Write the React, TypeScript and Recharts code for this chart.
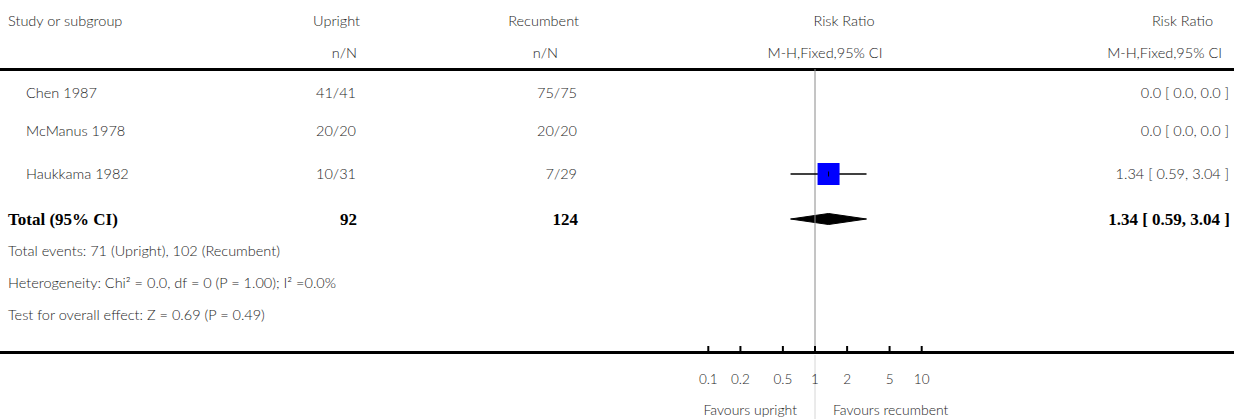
import React from "react";
import {
  Area,
  ComposedChart,
  ErrorBar,
  ReferenceLine,
  Scatter,
  XAxis,
  YAxis,
  ZAxis,
} from "recharts";

// study rows
const STUDIES = ["Chen 1987", "McManus 1978", "Haukkama 1982"];
const UPRIGHT = ["41/41", "20/20", "10/31"];
const RECUMBENT = ["75/75", "20/20", "7/29"];
const RR = [0.0, 0.0, 1.34];
const RR_LOW = [0.0, 0.0, 0.59];
const RR_HIGH = [0.0, 0.0, 3.04];

// pooled
const TOTAL_N = [92, 124];
const TOTAL_RR = 1.34;
const TOTAL_LOW = 0.59;
const TOTAL_HIGH = 3.04;

const FOOTNOTES = [
  "Total events: 71 (Upright), 102 (Recumbent)",
  "Heterogeneity: Chi² = 0.0, df = 0 (P = 1.00); I² =0.0%",
  "Test for overall effect: Z = 0.69 (P = 0.49)",
];

const TICKS = [0.1, 0.2, 0.5, 1, 2, 5, 10];

// layout
const W = 1234;
const H = 419;
const RULE_TOP = 69;
const AXIS_Y = 352;
const PLOT_LEFT = 601.6;
const PLOT_RIGHT = 1028.4;
const ROW_TEXT_Y = [93, 131, 174];
const TOTAL_Y = 219;
const FOOT_Y = [251, 283, 315];
const ROW_PX = 45;
const DIAMOND_HALF = 5.5 / ROW_PX;

const FONT = "Lato, 'Open Sans', sans-serif";
const SERIF = "'Liberation Serif', 'DejaVu Serif', serif";
const INK = "#1e1e1e";
const TEXT_SIZE = 14.5;

const fmt = (v: number) => (v === 0 ? "0.0" : v.toFixed(2));

const points = RR.map((rr, i) => ({
  x: rr,
  y: i,
  err: [rr - RR_LOW[i], RR_HIGH[i] - rr],
})).filter((p) => p.x > 0);

const totalRow = STUDIES.length;
const diamond = [
  { x: TOTAL_LOW, range: [totalRow, totalRow] },
  { x: TOTAL_RR, range: [totalRow - DIAMOND_HALF, totalRow + DIAMOND_HALF] },
  { x: TOTAL_HIGH, range: [totalRow, totalRow] },
];

const yDomain = [
  2 - (ROW_TEXT_Y[2] - RULE_TOP) / ROW_PX,
  2 + (AXIS_Y - ROW_TEXT_Y[2]) / ROW_PX,
];

function Txt({
  x,
  y,
  align = "left",
  bold = false,
  size,
  children,
}: {
  x: number;
  y: number;
  align?: "left" | "right" | "center";
  bold?: boolean;
  size?: number;
  children: React.ReactNode;
}) {
  const style: React.CSSProperties = {
    position: "absolute",
    top: y,
    transform: align === "center" ? "translate(-50%, -50%)" : "translateY(-50%)",
    whiteSpace: "nowrap",
    lineHeight: 1,
    fontFamily: bold ? SERIF : FONT,
    fontWeight: bold ? 700 : 300,
    fontSize: size ?? (bold ? 17 : TEXT_SIZE),
    color: bold ? "#000" : INK,
  };
  if (align === "right") style.right = W - x;
  else style.left = x;
  return <div style={style}>{children}</div>;
}

function Tick({ x, y, payload }: any) {
  return (
    <g>
      <line x1={x} x2={x} y1={y - 6} y2={y} stroke="#000" strokeWidth={2} />
      <text
        x={x}
        y={y + 32}
        textAnchor="middle"
        fontFamily={FONT}
        fontWeight={300}
        fontSize={13.5}
        fill={INK}
      >
        {String(payload.value)}
      </text>
    </g>
  );
}

function Favours({ viewBox }: any) {
  const cx = viewBox.x + viewBox.width / 2;
  const y = viewBox.y;
  const common = { fontFamily: FONT, fontWeight: 300, fontSize: 14, fill: INK };
  return (
    <g>
      <line x1={cx} x2={cx} y1={y + 3} y2={y + viewBox.height} stroke="#d6d6d6" />
      <text x={cx - 18} y={y + 63} textAnchor="end" {...common}>
        Favours upright
      </text>
      <text x={cx + 18} y={y + 63} textAnchor="start" {...common}>
        Favours recumbent
      </text>
    </g>
  );
}

export default function App() {
  return (
    <div
      style={{
        position: "absolute",
        left: 0,
        top: 0,
        width: W,
        height: H,
        background: "#fff",
        overflow: "hidden",
      }}
    >
      {/* header */}
      <Txt x={8} y={21}>Study or subgroup</Txt>
      <Txt x={360} y={21} align="right">Upright</Txt>
      <Txt x={357} y={53} align="right">n/N</Txt>
      <Txt x={579} y={21} align="right">Recumbent</Txt>
      <Txt x={558} y={53} align="right">n/N</Txt>
      <Txt x={844} y={21} align="center">Risk Ratio</Txt>
      <Txt x={825} y={53} align="center">M-H,Fixed,95% CI</Txt>
      <Txt x={1213} y={21} align="right">Risk Ratio</Txt>
      <Txt x={1222} y={53} align="right">M-H,Fixed,95% CI</Txt>

      {/* rules */}
      <div style={{ position: "absolute", left: 0, top: RULE_TOP - 1.5, width: W, height: 3, background: "#000" }} />
      <div style={{ position: "absolute", left: 0, top: AXIS_Y - 1.5, width: W, height: 3, background: "#000" }} />

      {/* study rows */}
      {STUDIES.map((s, i) => (
        <React.Fragment key={s}>
          <Txt x={26} y={ROW_TEXT_Y[i]}>{s}</Txt>
          <Txt x={356} y={ROW_TEXT_Y[i]} align="right">{UPRIGHT[i]}</Txt>
          <Txt x={577} y={ROW_TEXT_Y[i]} align="right">{RECUMBENT[i]}</Txt>
          <Txt x={1229} y={ROW_TEXT_Y[i]} align="right">
            {`${fmt(RR[i])} [ ${fmt(RR_LOW[i])}, ${fmt(RR_HIGH[i])} ]`}
          </Txt>
        </React.Fragment>
      ))}

      {/* total */}
      <Txt x={8} y={TOTAL_Y} bold>Total (95% CI)</Txt>
      <Txt x={357} y={TOTAL_Y} bold align="right">{TOTAL_N[0]}</Txt>
      <Txt x={578} y={TOTAL_Y} bold align="right">{TOTAL_N[1]}</Txt>
      <Txt x={1230} y={TOTAL_Y} bold align="right">
        {`${fmt(TOTAL_RR)} [ ${fmt(TOTAL_LOW)}, ${fmt(TOTAL_HIGH)} ]`}
      </Txt>

      {FOOTNOTES.map((f, i) => (
        <Txt key={f} x={8} y={FOOT_Y[i]}>{f}</Txt>
      ))}

      <div style={{ position: "absolute", left: 0, top: 0 }}>
        <ComposedChart
          width={W}
          height={H}
          margin={{ top: RULE_TOP, right: W - PLOT_RIGHT, bottom: 0, left: PLOT_LEFT }}
        >
          <XAxis
            type="number"
            dataKey="x"
            scale="log"
            domain={[0.01, 100]}
            allowDataOverflow
            ticks={TICKS}
            interval={0}
            height={H - AXIS_Y}
            axisLine={false}
            tickLine={false}
            tickSize={0}
            tickMargin={0}
            tick={<Tick />}
            label={{ content: (p: any) => <Favours {...p} /> }}
          />
          <YAxis type="number" dataKey="y" domain={yDomain} reversed hide allowDataOverflow />
          <ZAxis range={[484, 484]} />
          <ReferenceLine x={1} stroke="#8a8a8a" strokeWidth={1} />
          <Area
            data={diamond}
            dataKey="range"
            type="linear"
            fill="#000"
            fillOpacity={1}
            stroke="#000"
            strokeWidth={1}
            isAnimationActive={false}
          />
          <Scatter data={points} fill="#0000ff" shape="square" isAnimationActive={false} />
          <Scatter
            data={points}
            isAnimationActive={false}
            shape={(p: any) => (
              <line x1={p.cx} x2={p.cx} y1={p.cy - 2.5} y2={p.cy + 2.5} stroke="#000" strokeWidth={1} />
            )}
          >
            <ErrorBar dataKey="err" direction="x" width={0} stroke="#000" strokeWidth={1.5} />
          </Scatter>
        </ComposedChart>
      </div>
    </div>
  );
}
